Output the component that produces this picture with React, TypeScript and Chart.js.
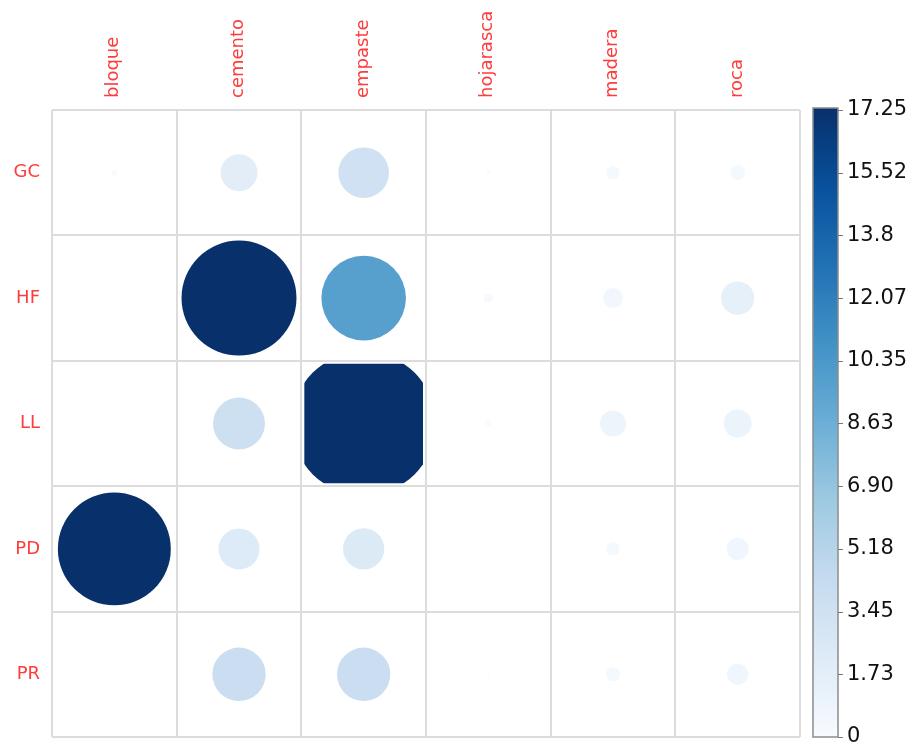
import React, { useEffect, useRef } from 'react';
import { Chart, registerables } from 'chart.js';

Chart.register(...registerables);

const columns = ['bloque', 'cemento', 'empaste', 'hojarasca', 'madera', 'roca'];
const rows = ['GC', 'HF', 'LL', 'PD', 'PR'];

const valuesGC = [0.05, 1.85, 3.46, 0.02, 0.24, 0.3];
const valuesHF = [0.01, 17.87, 9.67, 0.12, 0.54, 1.5];
const valuesLL = [0, 3.65, 28.0, 0.05, 0.92, 1.06];
const valuesPD = [17.25, 2.27, 2.3, 0.01, 0.24, 0.66];
const valuesPR = [0.01, 3.85, 3.85, 0.01, 0.27, 0.61];
const rowValues = [valuesGC, valuesHF, valuesLL, valuesPD, valuesPR];

const colorMax = 17.25;
const colorTicks = [0, 1.73, 3.45, 5.18, 6.9, 8.63, 10.35, 12.07, 13.8, 15.52, 17.25];
const colorTickLabels = ['0', '1.73', '3.45', '5.18', '6.90', '8.63', '10.35', '12.07', '13.8', '15.52', '17.25'];

const blues = ['#F7FBFF', '#DEEBF7', '#C6DBEF', '#9ECAE1', '#6BAED6', '#4292C6', '#2171B5', '#08519C', '#08306B'];

function hexToRgb(h: string) {
  const n = parseInt(h.slice(1), 16);
  return [(n >> 16) & 255, (n >> 8) & 255, n & 255];
}

function colorFor(v: number) {
  const t = Math.max(0, Math.min(1, v / colorMax)) * (blues.length - 1);
  const i = Math.min(Math.floor(t), blues.length - 2);
  const f = t - i;
  const a = hexToRgb(blues[i]);
  const b = hexToRgb(blues[i + 1]);
  const c = a.map((x, k) => Math.round(x + (b[k] - x) * f));
  return `rgb(${c[0]},${c[1]},${c[2]})`;
}

const labelRed = '#ff3b3b';
const gridColor = '#dcdcdc';

const cellClip = {
  id: 'cellClip',
  beforeDatasetDraw(chart: any, args: any) {
    const ds = chart.data.datasets[args.index];
    const pt = ds.data[0];
    const area = chart.chartArea;
    const cw = (area.right - area.left) / columns.length;
    const ch = (area.bottom - area.top) / rows.length;
    const ci = columns.indexOf(pt.x);
    const ri = rows.indexOf(pt.y);
    const inset = 3;
    const ctx = chart.ctx;
    ctx.save();
    ctx.beginPath();
    ctx.rect(area.left + ci * cw + inset, area.top + ri * ch + inset, cw - 2 * inset, ch - 2 * inset);
    ctx.clip();
  },
  afterDatasetDraw(chart: any) {
    chart.ctx.restore();
  },
};

const colorBar = {
  id: 'colorBar',
  afterDraw(chart: any) {
    const ys = chart.scales.yc;
    const ctx = chart.ctx;
    const top = ys.getPixelForValue(colorMax) - 2;
    const bottom = ys.getPixelForValue(0);
    const x0 = chart.chartArea.right + 13;
    const w = 25;
    const grad = ctx.createLinearGradient(0, bottom, 0, top);
    blues.forEach((c, i) => grad.addColorStop(i / (blues.length - 1), c));
    ctx.save();
    ctx.fillStyle = grad;
    ctx.fillRect(x0, top, w, bottom - top);
    ctx.strokeStyle = '#8c8c8c';
    ctx.lineWidth = 1.5;
    ctx.strokeRect(x0, top, w, bottom - top);
    ctx.strokeStyle = '#777777';
    ctx.lineWidth = 1;
    colorTicks.forEach((v) => {
      const y = Math.round(ys.getPixelForValue(v)) + 0.5;
      ctx.beginPath();
      ctx.moveTo(x0 + w, y);
      ctx.lineTo(x0 + w + 5, y);
      ctx.stroke();
    });
    ctx.restore();
  },
};

function clearPadding(s: any) {
  s.paddingTop = 0;
  s.paddingBottom = 0;
  s.paddingLeft = 0;
  s.paddingRight = 0;
}

export default function App() {
  const ref = useRef<HTMLCanvasElement | null>(null);

  useEffect(() => {
    if (!ref.current) return;
    const datasets: any[] = [];
    rows.forEach((row, ri) => {
      columns.forEach((col, ci) => {
        const v = rowValues[ri][ci];
        datasets.push({
          label: `${row}-${col}`,
          data: [{ x: col, y: row, v }],
          backgroundColor: colorFor(v),
          borderWidth: 0,
          pointBorderWidth: 0,
          pointRadius: (ctx: any) => {
            const area = ctx.chart.chartArea;
            if (!area) return 0;
            const cell = (area.right - area.left) / columns.length;
            return 0.453 * cell * Math.sqrt(v / colorMax);
          },
        });
      });
    });

    const chart = new Chart(ref.current, {
      type: 'scatter',
      data: { datasets },
      options: {
        animation: false,
        responsive: false,
        maintainAspectRatio: false,
        events: [],
        layout: { autoPadding: false, padding: { top: 0, left: 0, right: 0, bottom: 9 } },
        plugins: { legend: { display: false }, tooltip: { enabled: false } },
        scales: {
          x: {
            type: 'category',
            labels: columns,
            position: 'top',
            offset: true,
            grid: { offset: true, color: gridColor, lineWidth: 2, drawTicks: false },
            border: { display: false },
            ticks: {
              autoSkip: false,
              minRotation: 90,
              maxRotation: 90,
              padding: 12,
              labelOffset: 21,
              color: labelRed,
              font: { family: 'DejaVu Sans', size: 18 },
            },
            afterFit: (s: any) => {
              s.height = 110;
              clearPadding(s);
            },
          },
          y: {
            type: 'category',
            labels: rows,
            position: 'left',
            offset: true,
            grid: { offset: true, color: gridColor, lineWidth: 2, drawTicks: false },
            border: { display: false },
            ticks: {
              autoSkip: false,
              padding: 12,
              color: labelRed,
              font: { family: 'DejaVu Sans', size: 18 },
            },
            afterFit: (s: any) => {
              s.width = 52;
              clearPadding(s);
            },
          },
          yc: {
            type: 'linear',
            position: 'right',
            min: 0,
            max: colorMax,
            grid: { display: false, drawTicks: false },
            border: { display: false },
            afterBuildTicks: (s: any) => {
              s.ticks = colorTicks.map((v) => ({ value: v }));
            },
            ticks: {
              autoSkip: false,
              padding: 47,
              color: '#111111',
              font: { family: 'DejaVu Sans', size: 21 },
              callback: (_v: any, i: number) => colorTickLabels[i],
            },
            afterFit: (s: any) => {
              s.width = 118;
              clearPadding(s);
            },
          },
        },
      } as any,
      plugins: [cellClip, colorBar],
    });
    return () => chart.destroy();
  }, []);

  return (
    <div style={{ position: 'absolute', left: 0, top: 0, width: 918, height: 746, background: '#ffffff' }}>
      <canvas ref={ref} width={918} height={746} style={{ display: 'block', width: 918, height: 746 }} />
    </div>
  );
}
